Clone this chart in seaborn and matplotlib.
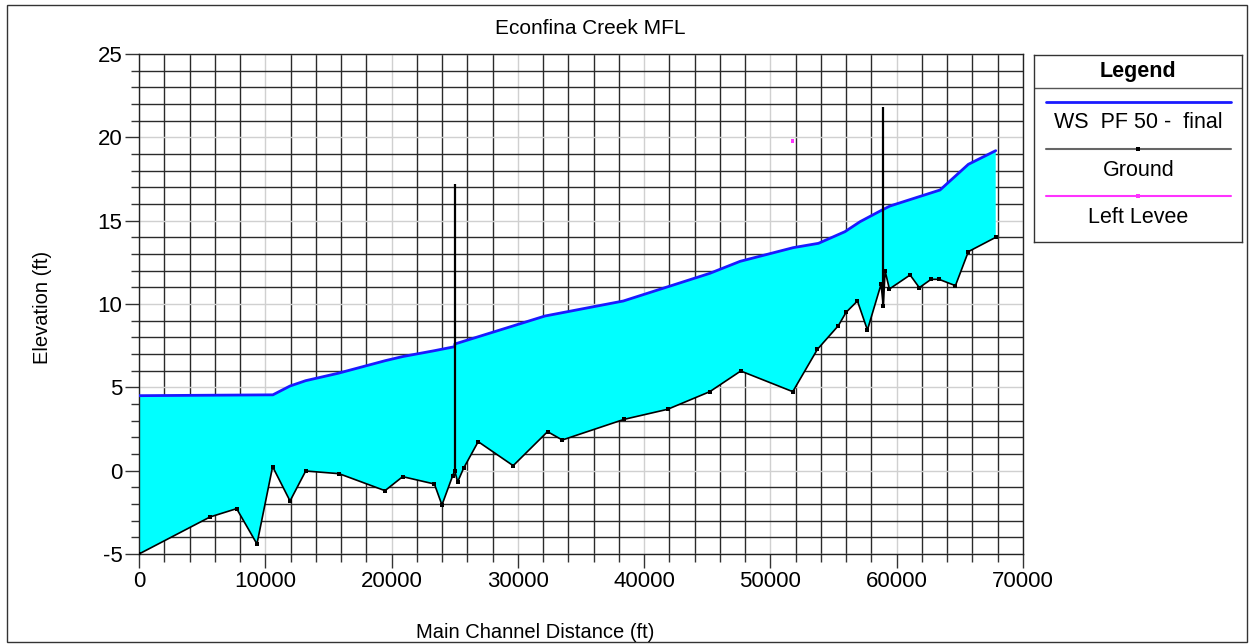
import numpy as np
import matplotlib
matplotlib.use("Agg")
import matplotlib.pyplot as plt
import seaborn as sns
from matplotlib.ticker import MultipleLocator
from matplotlib.patches import Rectangle

# ---------------- data ----------------
ws_x = [0, 10600, 11960, 13200, 15800, 19500, 20900, 23400, 25000, 25010,
        32150, 38350, 45200, 47600, 51800, 53800, 55900, 57100, 58940, 59470,
        63430, 65670, 67840]
ws_y = [4.5, 4.55, 5.08, 5.4, 5.85, 6.6, 6.85, 7.2, 7.44, 7.6,
        9.28, 10.18, 11.84, 12.56, 13.38, 13.64, 14.34, 14.94, 15.68, 15.88,
        16.84, 18.38, 19.2]

ground_x = [0, 5620, 7730, 9340, 10580, 11960, 13200, 15840, 19480, 20880,
            23390, 23990, 24840, 25000, 25230, 25700, 26860, 29630, 32350, 33520,
            38420, 41850, 45200, 47650, 51770, 53720, 55380, 55990, 56890, 57680,
            58760, 58940, 59080, 59420, 61060, 61790, 62720, 63350, 64650, 65670,
            67840]
ground_y = [-5.0, -2.78, -2.28, -4.4, 0.24, -1.82, -0.02, -0.18, -1.2, -0.36,
            -0.8, -2.06, -0.3, 0.0, -0.68, 0.14, 1.74, 0.3, 2.34, 1.84,
            3.08, 3.68, 4.74, 5.98, 4.74, 7.28, 8.7, 9.5, 10.18, 8.44,
            11.18, 9.9, 11.98, 10.9, 11.74, 10.98, 11.48, 11.48, 11.1, 13.14,
            14.0]

spike_x = [25000, 58940]
spike_base = [0.0, 9.9]
spike_top = [17.2, 21.8]

levee_x = [51750]
levee_y = [19.8]

legend_title = "Legend"
legend_labels = ["WS  PF 50 -  final", "Ground", "Left Levee"]

title = "Econfina Creek MFL"
xlabel = "Main Channel Distance (ft)"
ylabel = "Elevation (ft)"

ws_color = "#1a1aff"
fill_color = "#00ffff"
ground_color = "#000000"
levee_color = "#ff33ff"

# ---------------- plot ----------------
sns.set_theme(style="white")
plt.rcParams["font.family"] = ["Liberation Sans", "DejaVu Sans"]
plt.rcParams["axes.unicode_minus"] = False
plt.rcParams["text.color"] = "black"

W, H = 1250, 644
fig = plt.figure(figsize=(W / 100, H / 100), dpi=100)
ax = fig.add_axes([139 / W, 1 - 554 / H, 884 / W, 500 / H])

# cyan area between water surface and ground
poly_x = np.r_[np.array(ws_x), np.array(ground_x)[::-1]]
poly_y = np.r_[np.array(ws_y), np.array(ground_y)[::-1]]
ax.fill(poly_x, poly_y, color=fill_color, lw=0, zorder=2)

sns.lineplot(x=ws_x, y=ws_y, estimator=None, sort=False, color=ws_color,
             lw=2, ax=ax, zorder=4, legend=False)
sns.lineplot(x=ground_x, y=ground_y, estimator=None, sort=False, color=ground_color,
             lw=1.2, marker="s", markersize=3, markeredgewidth=0, ax=ax, zorder=5,
             legend=False)
ax.vlines(spike_x, spike_base, spike_top, color=ground_color, lw=1.6, zorder=5)
sns.scatterplot(x=levee_x, y=levee_y, marker="s", s=8, color=levee_color,
                edgecolor="none", ax=ax, zorder=6, legend=False)

ax.set_xlim(0, 70000)
ax.set_ylim(-5, 25)
ax.xaxis.set_major_locator(MultipleLocator(10000))
ax.xaxis.set_minor_locator(MultipleLocator(2000))
ax.yaxis.set_major_locator(MultipleLocator(5))
ax.yaxis.set_minor_locator(MultipleLocator(1))
ax.set_axisbelow(True)
ax.grid(which="minor", color="#2a2a2a", lw=1.0, zorder=0)
ax.grid(which="major", color="#d0d0d0", lw=1.0, zorder=0)
ax.tick_params(which="both", direction="out", bottom=True, left=True,
               color="#333333", width=1)
ax.tick_params(which="major", length=10, labelsize=16, pad=2, labelcolor="black")
ax.tick_params(which="minor", length=6)
for s in ax.spines.values():
    s.set_visible(True)
    s.set_color("#222222")
    s.set_linewidth(1)
ax.set_xlabel("")
ax.set_ylabel("")

fig.text(535 / W, 1 - 632 / H, xlabel, ha="center", va="center", fontsize=14.5,
         color="black")
fig.text(42 / W, 1 - 307 / H, ylabel, ha="center", va="center", rotation=90,
         fontsize=14.5, color="black")
fig.text(590 / W, 1 - 28 / H, title, ha="center", va="center", fontsize=15,
         color="black")

# legend box
lax = fig.add_axes([1034.3 / W, 1 - 242.3 / H, 208 / W, 187.3 / H])
lax.set_xlim(0, 1)
lax.set_ylim(0, 1)
lax.set_xticks([])
lax.set_yticks([])
for s in lax.spines.values():
    s.set_visible(True)
    s.set_color("#333333")
    s.set_linewidth(1)
lax.axhline(0.825, color="#555555", lw=1)
lax.text(0.5, 0.913, legend_title, ha="center", va="center", fontsize=15.5,
         fontweight="bold", color="black")
line_y = [0.751, 0.498, 0.247]
text_y = [0.637, 0.386, 0.130]
styles = [(ws_color, 2, None), ("#666666", 1.5, "s"), (levee_color, 1.5, "s")]
mk_colors = [ws_color, "#000000", levee_color]
for lbl, ly, ty, (c, lw, mk), mc in zip(legend_labels, line_y, text_y, styles, mk_colors):
    lax.plot([0.056, 0.946], [ly, ly], color=c, lw=lw)
    if mk:
        lax.plot([0.5], [ly], marker=mk, color=mc, markersize=3, markeredgewidth=0)
    lax.text(0.5, ty, lbl, ha="center", va="center", fontsize=15.5, color="black")

# outer frame
fig.patches.append(Rectangle((7 / W, 2 / H), (1247 - 7) / W, (642 - 5) / H,
                             fill=False, edgecolor="#333333", lw=1,
                             transform=fig.transFigure, figure=fig))

fig.savefig("out.png", dpi=100)
